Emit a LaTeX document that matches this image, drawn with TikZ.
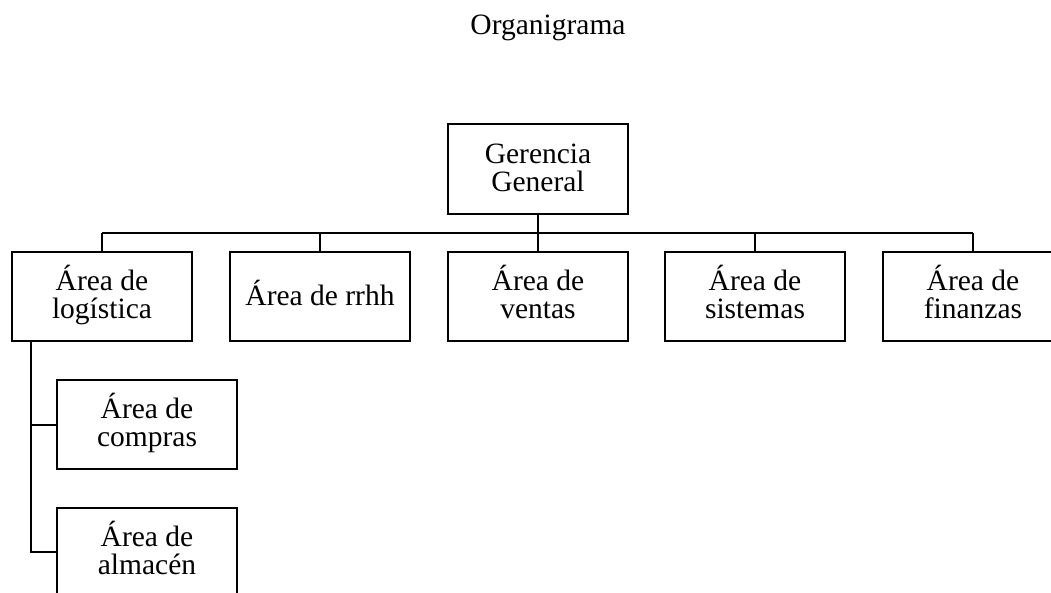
\documentclass[tikz,border=0pt]{standalone}
\usepackage{fontspec}
\setmainfont{Liberation Serif}
\begin{document}
\begin{tikzpicture}[x=1pt,y=-1pt,
  box/.style={draw=black,line width=2pt,minimum width=180pt,minimum height=89pt,
    align=center,inner sep=0pt,text depth=0pt,text height=44pt,
    font=\fontsize{29.5}{28.5}\selectfont},
  onebox/.style={box,text height=18pt},
  conn/.style={draw=black,line width=2pt},
  title/.style={font=\fontsize{29.5}{28.5}\selectfont}]
\useasboundingbox (0,0) rectangle (1051,592);
\clip (0,0) rectangle (1051,592);
\node[title,anchor=base] (t) at (548,34) {Organigrama};
\node[box,minimum height=90pt,text height=45pt] (g) at (538,169) {Gerencia\\General};
\node[box] (l1) at (102,296.5) {Área de\\logística};
\node[onebox] (l2) at (320,296.5) {Área de rrhh};
\node[box] (l3) at (538,296.5) {Área de\\ventas};
\node[box] (l4) at (755,296.5) {Área de\\sistemas};
\node[box] (l5) at (973,296.5) {Área de\\finanzas};
\node[box] (c1) at (147,424.5) {Área de\\compras};
\node[box] (c2) at (147,552.5) {Área de\\almacén};
\coordinate (bus) at (538,233);
\coordinate (trunk) at (31,0);
\draw[conn] (g.south) -- (g.south |- bus);
\draw[conn] (l1.north |- bus) -- (l5.north |- bus);
\foreach \n in {l1,l2,l3,l4,l5} {\draw[conn] (\n.north) -- (\n.north |- bus);}
\draw[conn] (trunk |- l1.south) -- (trunk |- 0,552) -- (c2.west |- 0,552);
\draw[conn] (trunk |- c1.west) -- (c1.west);
\end{tikzpicture}
\end{document}
